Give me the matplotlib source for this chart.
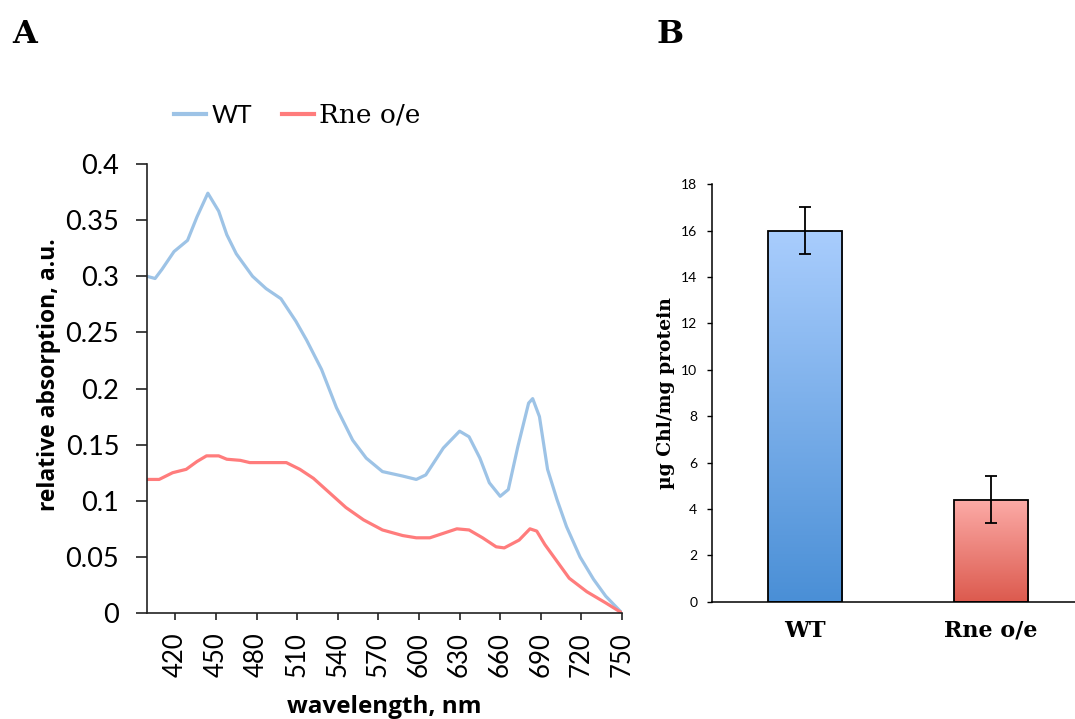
import numpy as np
import matplotlib
matplotlib.use("Agg")
import matplotlib.pyplot as plt
from matplotlib.lines import Line2D
from matplotlib.colors import LinearSegmentedColormap

# panel A: absorption spectra
wt_wl = [399, 405, 410, 419, 429, 436, 444, 452, 458, 465, 477, 487, 498, 509, 517, 528,
         539, 551, 561, 573, 588, 598, 605, 618, 630, 637, 645, 652, 660, 666, 673, 681,
         684, 689, 695, 702, 709, 719, 729, 738, 750]
wt_abs = [0.300, 0.298, 0.306, 0.322, 0.332, 0.353, 0.374, 0.358, 0.337, 0.320, 0.300,
          0.289, 0.280, 0.260, 0.243, 0.217, 0.183, 0.154, 0.138, 0.126, 0.122, 0.119,
          0.123, 0.147, 0.162, 0.157, 0.138, 0.116, 0.104, 0.110, 0.148, 0.187, 0.191,
          0.175, 0.128, 0.101, 0.077, 0.050, 0.030, 0.015, 0.0]
rne_wl = [399, 408, 418, 428, 436, 443, 452, 458, 468, 475, 502, 512, 522, 534, 546, 559,
          573, 588, 598, 608, 618, 628, 637, 647, 657, 663, 674, 682, 687, 693, 702, 711,
          724, 738, 750]
rne_abs = [0.119, 0.119, 0.125, 0.128, 0.135, 0.140, 0.140, 0.137, 0.136, 0.134, 0.134,
           0.128, 0.120, 0.107, 0.094, 0.083, 0.074, 0.069, 0.067, 0.067, 0.071, 0.075,
           0.074, 0.067, 0.059, 0.058, 0.065, 0.075, 0.073, 0.061, 0.046, 0.031, 0.019,
           0.009, 0.0]
xticks_a = [420, 450, 480, 510, 540, 570, 600, 630, 660, 690, 720, 750]
yticks_a = [0, 0.05, 0.1, 0.15, 0.2, 0.25, 0.3, 0.35, 0.4]
ytick_labels_a = ["0", "0.05", "0.1", "0.15", "0.2", "0.25", "0.3", "0.35", "0.4"]

# panel B: chlorophyll content
groups = ["WT", "Rne o/e"]
chl = [16.0, 4.4]
chl_err = [1.0, 1.0]

BLUE = "#9DC3E6"; RED = "#FF7C7C"
TICKFONT = "Lato"; LABFONT = "Open Sans"; SERIF = "DejaVu Serif"

fig = plt.figure(figsize=(10.75, 7.19), dpi=100)

# ---------------------------------------------------------------- panel A
axA = fig.add_axes([0.1367, 0.1474, 0.4419, 0.6245])
axA.plot(wt_wl, wt_abs, color=BLUE, lw=2.3, solid_joinstyle="round")
axA.plot(rne_wl, rne_abs, color=RED, lw=2.3, solid_joinstyle="round")
axA.set_xlim(399, 750); axA.set_ylim(0, 0.4)
axA.set_xticks(xticks_a)
axA.set_xticklabels([str(v) for v in xticks_a], rotation=90, fontsize=18.5, family=TICKFONT)
axA.set_yticks(yticks_a)
axA.set_yticklabels(ytick_labels_a, fontsize=19.5, family=TICKFONT)
axA.spines[["top", "right"]].set_visible(False)
for s in ("left", "bottom"):
    axA.spines[s].set_linewidth(1.2); axA.spines[s].set_color("#222222")
axA.tick_params(axis="y", direction="out", length=8, width=1.2, pad=12, color="#222222")
axA.tick_params(axis="x", direction="out", length=5, width=1.2, pad=9, color="#222222")
axA.set_xlabel("wavelength, nm", fontsize=17.5, fontweight="bold", family=LABFONT)
axA.set_ylabel("relative absorption, a.u.", fontsize=16.5, fontweight="bold", family=LABFONT)
axA.xaxis.set_label_coords(0.50, -0.183)
axA.yaxis.set_label_coords(-0.18, 0.53)

handles = [Line2D([], [], color=BLUE, lw=3), Line2D([], [], color=RED, lw=3)]
leg = fig.legend(handles, groups, loc="center left", bbox_to_anchor=(0.150, 0.84),
                 ncol=2, frameon=False, fontsize=18, handlelength=1.3,
                 handletextpad=0.2, columnspacing=1.2, borderpad=0)
leg.get_texts()[0].set_family(TICKFONT)
leg.get_texts()[1].set_family(SERIF)
leg.get_texts()[1].set_fontsize(19)

fig.text(0.011, 0.952, "A", fontsize=23, fontweight="bold", family=SERIF, va="center")
fig.text(0.611, 0.952, "B", fontsize=23, fontweight="bold", family=SERIF, va="center")

# ---------------------------------------------------------------- panel B
axB = fig.add_axes([0.6623, 0.1632, 0.3460, 0.5805])
x = np.arange(len(groups)); w = 0.4
cmaps = [LinearSegmentedColormap.from_list("b", ["#4A8FD6", "#A9CDFD"]),
         LinearSegmentedColormap.from_list("r", ["#DC5A4E", "#FCABA7"])]
bars = axB.bar(x, chl, w, facecolor="none", edgecolor="black", linewidth=1.3, zorder=3)
grad = np.linspace(0, 1, 256).reshape(-1, 1)
for b, cm in zip(bars, cmaps):
    x0, h = b.get_x(), b.get_height()
    im = axB.imshow(grad, cmap=cm, origin="lower", aspect="auto",
                    extent=[x0, x0 + w, 0, h], zorder=2)
    im.set_clip_path(b)
axB.errorbar(x, chl, yerr=chl_err, fmt="none", ecolor="black", elinewidth=1.3,
             capsize=4, capthick=1.3, zorder=4)
axB.set_xlim(-0.5, 1.5); axB.set_ylim(0, 18)
axB.set_yticks(range(0, 19, 2))
axB.set_yticklabels([str(v) for v in range(0, 19, 2)], fontsize=10, family=TICKFONT)
axB.set_xticks(x)
axB.set_xticklabels(groups, fontsize=16, fontweight="bold", family=SERIF)
axB.tick_params(axis="x", length=0, pad=13)
axB.tick_params(axis="y", direction="out", length=3.6, width=1, pad=7)
axB.spines[["top", "right"]].set_visible(False)
for s in ("left", "bottom"):
    axB.spines[s].set_linewidth(1.1)
axB.set_ylabel("\u00b5g Chl/mg protein", fontsize=13.5, fontweight="bold", family=SERIF)
axB.yaxis.set_label_coords(-0.10, 0.5)

fig.savefig("out.png", dpi=100, facecolor="white")
